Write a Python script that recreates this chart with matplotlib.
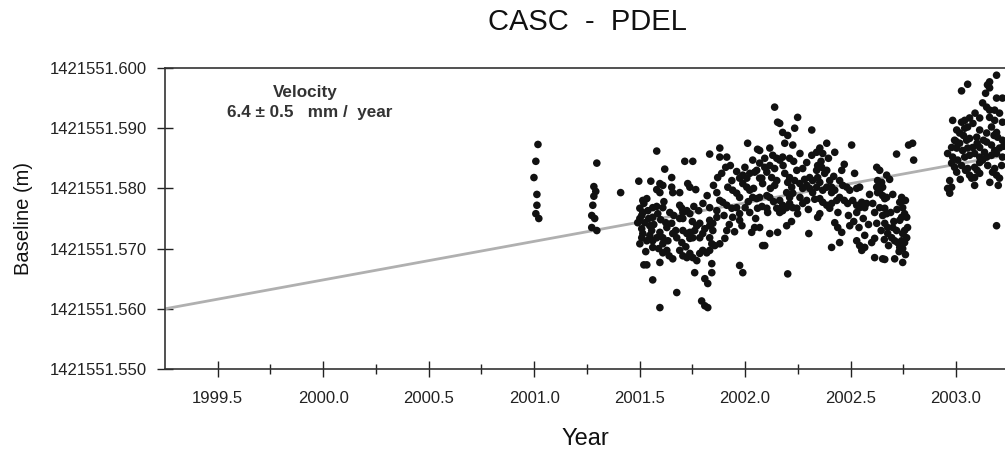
import matplotlib
matplotlib.use("Agg")
import matplotlib.pyplot as plt
from matplotlib.ticker import FixedLocator, FormatStrFormatter

plt.rcParams['font.family'] = ['Liberation Sans', 'DejaVu Sans']

# ---------------- data ----------------
TITLE = "CASC  -  PDEL"
BASE_M = 1421551.550          # baseline reference (m); offsets below are mm above this

# epoch-2001.0 campaign
yr_a = [2001.018, 2001.008, 2000.999, 2001.013, 2001.013, 2001.008, 2001.022]
mm_a = [37.3, 34.5, 31.8, 29.0, 27.2, 25.8, 25.0]

# epoch-2001.3 campaign
yr_b = [2001.297, 2001.283, 2001.292, 2001.283, 2001.278, 2001.273, 2001.287, 2001.273, 2001.297, 2001.410]
mm_b = [34.2, 30.3, 29.5, 28.7, 27.2, 25.5, 25.0, 23.5, 23.0, 29.3]

# continuous 2001.5 - 2002.1
yr_c = [2001.496, 2001.515, 2001.501, 2001.510, 2001.491, 2001.510, 2001.510, 2001.501, 2001.520, 2001.524, 2001.501,
        2001.581, 2001.619, 2001.652, 2001.714, 2001.752, 2001.832, 2001.880, 2001.880, 2001.913, 2001.908, 2001.889,
        2002.012, 2002.059, 2002.036, 2001.553, 2001.596, 2001.610, 2001.581, 2001.596, 2001.652, 2001.657, 2001.690,
        2001.728, 2001.738, 2001.766, 2001.534, 2001.562, 2001.581, 2001.610, 2001.515, 2001.539, 2001.548, 2001.562,
        2001.624, 2001.652, 2001.629, 2001.690, 2001.700, 2001.705, 2001.724, 2001.738, 2001.690, 2001.705, 2001.832,
        2001.866, 2001.880, 2001.894, 2001.918, 2001.941, 2001.960, 2001.974, 2001.937, 2001.974, 2001.989, 2002.008,
        2002.022, 2002.045, 2001.989, 2002.008, 2002.022, 2002.036, 2002.055, 2002.069, 2002.083, 2001.913, 2001.937,
        2001.960, 2001.974, 2001.941, 2001.974, 2001.866, 2001.866, 2001.832, 2002.022, 2002.059, 2002.045, 2002.031,
        2001.515, 2001.534, 2001.548, 2001.562, 2001.581, 2001.596, 2001.610, 2001.610, 2001.634, 2001.657, 2001.676,
        2001.562, 2001.705, 2001.724, 2001.738, 2001.752, 2001.738, 2001.761, 2001.785, 2001.799, 2001.809, 2001.832,
        2001.847, 2001.847, 2001.785, 2001.771, 2001.832, 2001.842, 2001.856, 2001.880, 2001.904, 2001.913, 2001.610,
        2001.629, 2001.690, 2001.705, 2001.724, 2001.738, 2001.752, 2001.771, 2001.785, 2001.799, 2001.818, 2001.832,
        2001.534, 2001.596, 2001.657, 2001.761, 2001.842, 2001.842, 2001.809, 2001.823, 2001.974, 2001.989, 2001.562,
        2001.676, 2001.596, 2001.794, 2001.809, 2001.823, 2002.083, 2002.055, 2002.079,
        2001.520, 2001.543, 2001.557, 2001.529, 2001.567, 2001.586, 2001.600, 2001.615, 2001.643, 2001.662, 2001.671,
        2001.590, 2001.640, 2001.700, 2001.719, 2001.750, 2001.757, 2001.780, 2001.800, 2001.820, 2001.850, 2001.870,
        2001.900, 2001.925, 2001.950, 2001.985, 2002.000, 2002.015, 2002.050, 2002.040, 2001.999, 2001.960, 2001.930]
mm_c = [31.2, 28.0, 26.7, 25.5, 24.3, 23.3, 21.8, 20.8, 17.3, 24.3, 25.0,
        36.2, 33.2, 31.8, 34.5, 34.5, 35.7, 36.7, 35.2, 35.2, 33.5, 32.5,
        37.5, 36.5, 34.7, 31.2, 30.8, 30.5, 29.8, 29.3, 30.2, 29.3, 29.3,
        30.8, 30.2, 29.8, 28.3, 26.8, 27.0, 26.8, 26.0, 26.3, 23.8, 25.2,
        24.3, 24.2, 23.5, 27.2, 26.7, 26.0, 26.3, 25.8, 25.0, 25.0, 26.8,
        29.3, 28.0, 27.7, 30.2, 29.7, 29.2, 28.5, 31.3, 31.7, 32.2, 31.7,
        32.5, 32.7, 30.8, 30.2, 29.7, 28.5, 28.3, 28.5, 30.8, 27.2, 26.7,
        26.8, 25.8, 25.2, 24.7, 26.3, 25.2, 24.7, 26.0, 26.7, 23.5, 22.7,
        22.5, 21.3, 22.2, 21.3, 21.8, 22.7, 21.8, 20.8, 21.3, 22.5, 21.8,
        20.2, 23.0, 22.5, 22.7, 21.8, 21.7, 23.0, 21.8, 22.5, 23.3, 23.8,
        23.0, 24.2, 24.2, 23.8, 21.8, 20.8, 20.5, 20.8, 21.7, 23.0, 19.3,
        19.7, 19.7, 18.8, 18.5, 19.2, 18.5, 18.0, 19.2, 19.7, 19.3, 19.7,
        17.3, 17.7, 18.3, 16.0, 17.5, 16.0, 15.0, 14.2, 17.2, 16.0, 14.8,
        12.7, 10.2, 11.3, 10.5, 10.2, 20.5, 33.0, 31.7,
        27.5, 25.0, 23.0, 19.5, 24.0, 25.8, 24.8, 27.8, 26.0, 25.5, 23.0,
        20.0, 18.8, 21.0, 20.3, 24.5, 27.0, 26.3, 27.5, 28.8, 30.5, 31.8,
        25.5, 24.0, 22.8, 23.8, 26.8, 27.8, 25.0, 30.0, 33.5, 32.8, 33.8]

# continuous 2002.05 - 2002.8
yr_d = [2002.140, 2002.154, 2002.164, 2002.249, 2002.178, 2002.202, 2002.235, 2002.316, 2002.188, 2002.226,
        2002.069, 2002.117, 2002.093, 2002.131, 2002.150, 2002.164, 2002.178, 2002.211, 2002.069, 2002.093,
        2002.117, 2002.140, 2002.103, 2002.069, 2002.126, 2002.150, 2002.140, 2002.188, 2002.211, 2002.202,
        2002.235, 2002.245, 2002.273, 2002.292, 2002.316, 2002.339, 2002.354, 2002.387, 2002.368, 2002.425,
        2002.505, 2002.306, 2002.320, 2002.344, 2002.354, 2002.377, 2002.387, 2002.401, 2002.410, 2002.292,
        2002.306, 2002.320, 2002.339, 2002.368, 2002.387, 2002.410, 2002.425, 2002.339, 2002.344, 2002.363,
        2002.259, 2002.273, 2002.221, 2002.197, 2002.226, 2002.211, 2002.103, 2002.117, 2002.164, 2002.178,
        2002.197, 2002.211, 2002.226, 2002.245, 2002.273, 2002.292, 2002.103, 2002.107, 2002.150, 2002.164,
        2002.178, 2002.249, 2002.354, 2002.368, 2002.387, 2002.401, 2002.410, 2002.434, 2002.448, 2002.448,
        2002.463, 2002.482, 2002.496, 2002.529, 2002.543, 2002.458, 2002.519, 2002.486, 2002.510, 2002.529,
        2002.543, 2002.529, 2002.553, 2002.576, 2002.567, 2002.354, 2002.344, 2002.425, 2002.439, 2002.458,
        2002.496, 2002.624, 2002.628, 2002.624, 2002.628, 2002.605, 2002.614, 2002.624, 2002.069, 2002.117,
        2002.154, 2002.197, 2002.093, 2002.302, 2002.448, 2002.410, 2002.529, 2002.543, 2002.553, 2002.567,
        2002.567, 2002.614, 2002.614, 2002.652, 2002.202,
        2002.794, 2002.775, 2002.718, 2002.799, 2002.638, 2002.671, 2002.647, 2002.652, 2002.638, 2002.652,
        2002.662, 2002.671, 2002.742, 2002.747, 2002.733, 2002.638, 2002.662, 2002.671, 2002.652, 2002.747,
        2002.756, 2002.742, 2002.733, 2002.766, 2002.662, 2002.676, 2002.676, 2002.695, 2002.709, 2002.723,
        2002.742, 2002.756, 2002.766, 2002.747, 2002.756, 2002.718, 2002.700, 2002.733, 2002.747, 2002.662,
        2002.709, 2002.747,
        2002.080, 2002.120, 2002.135, 2002.180, 2002.230, 2002.260, 2002.282, 2002.300, 2002.330, 2002.360,
        2002.395, 2002.420, 2002.440, 2002.470, 2002.490, 2002.515, 2002.540, 2002.560, 2002.585, 2002.600,
        2002.590, 2002.470, 2002.260, 2002.220,
        2002.690, 2002.705, 2002.720, 2002.700, 2002.685, 2002.760, 2002.770, 2002.680, 2002.730, 2002.760,
        2002.660, 2002.645]
mm_d = [43.5, 41.0, 40.8, 41.8, 39.3, 38.8, 40.0, 39.7, 37.5, 37.2,
        36.3, 36.7, 35.0, 35.5, 35.0, 34.7, 35.2, 35.0, 34.2, 33.5,
        33.8, 33.3, 32.7, 31.7, 31.8, 31.3, 30.5, 32.5, 31.8, 31.0,
        31.3, 33.0, 33.3, 34.3, 35.5, 36.0, 36.7, 37.5, 35.8, 36.0,
        37.2, 31.8, 31.3, 31.8, 31.0, 32.5, 33.0, 31.3, 30.2, 30.5,
        30.0, 29.3, 30.2, 29.7, 30.2, 29.3, 29.7, 33.0, 33.8, 33.5,
        30.8, 30.0, 30.2, 29.3, 29.2, 28.5, 28.8, 28.5, 28.0, 27.2,
        26.8, 27.5, 26.8, 26.7, 27.5, 28.0, 26.7, 26.0, 26.7, 26.0,
        26.3, 25.8, 28.3, 27.7, 27.2, 26.7, 27.5, 28.0, 28.5, 31.3,
        30.5, 30.2, 29.7, 30.0, 30.2, 33.0, 32.5, 27.5, 28.0, 27.2,
        26.8, 26.0, 27.7, 27.5, 26.8, 25.8, 25.2, 24.3, 23.5, 22.7,
        23.8, 33.5, 31.3, 30.2, 29.3, 27.5, 26.0, 24.2, 23.5, 22.5,
        22.7, 23.8, 20.5, 22.5, 21.0, 20.2, 21.3, 20.5, 19.7, 20.2,
        22.2, 21.7, 18.5, 18.3, 15.8,
        37.5, 37.2, 35.7, 34.7, 33.0, 32.2, 31.0, 30.2, 29.7, 28.8,
        28.3, 28.5, 28.5, 28.0, 27.7, 26.8, 26.7, 25.8, 25.5, 26.8,
        25.8, 25.2, 24.7, 25.2, 24.2, 23.5, 22.5, 21.8, 21.3, 21.0,
        21.3, 21.0, 21.8, 22.5, 23.0, 23.0, 23.5, 20.2, 20.0, 18.2,
        18.3, 17.7,
        27.0, 30.0, 27.8, 33.8, 34.5, 35.8, 31.5, 26.5, 28.2, 34.5,
        35.0, 32.0, 26.0, 28.0, 25.5, 24.5, 23.5, 25.0, 24.0, 21.0,
        29.0, 34.0, 28.5, 24.5,
        26.0, 24.5, 26.5, 29.0, 31.5, 28.0, 23.5, 20.5, 19.5, 19.0,
        21.5, 23.0]

# continuous 2002.95 onward
yr_e = [2003.192, 2003.159, 2003.149, 2003.159, 2003.055, 2003.026, 2003.192, 2003.220, 2003.126, 2003.145,
        2003.159, 2003.183, 2003.112, 2003.159, 2003.183, 2003.206, 2003.220, 2002.984, 2003.026, 2003.041,
        2003.064, 2003.003, 2003.017, 2003.041, 2003.055, 2003.112, 2003.145, 2003.168, 2003.192, 2003.197,
        2003.220, 2002.993, 2003.017, 2003.050, 2003.064, 2003.098, 2002.979, 2003.003, 2003.031, 2003.055,
        2003.079, 2003.112, 2003.145, 2003.168, 2003.183, 2003.206, 2002.960, 2002.984, 2003.008, 2003.041,
        2003.064, 2003.088, 2003.112, 2003.145, 2003.168, 2003.192, 2003.220, 2002.979, 2002.993, 2003.026,
        2003.055, 2003.088, 2003.112, 2003.126, 2003.003, 2003.064, 2003.088, 2003.112, 2003.173, 2003.192,
        2003.206, 2003.183, 2003.216, 2003.074, 2003.088, 2002.970, 2002.979, 2002.960, 2002.970, 2003.192,
        2003.000, 2003.035, 2003.080, 2003.100, 2003.130, 2003.135, 2003.150, 2003.100, 2003.045, 2003.020,
        2003.160, 2003.200, 2003.225, 2003.180, 2003.090, 2003.140]
mm_e = [48.8, 47.7, 47.2, 46.7, 47.3, 46.2, 45.0, 45.0, 44.2, 43.5,
        43.0, 43.0, 41.7, 41.8, 41.3, 42.5, 41.0, 41.3, 41.0, 41.3,
        41.7, 39.7, 39.2, 40.0, 40.2, 39.7, 39.2, 40.2, 39.3, 38.5,
        38.0, 38.0, 37.5, 38.0, 38.3, 38.5, 36.8, 36.7, 36.3, 36.7,
        36.8, 36.8, 37.7, 37.2, 36.3, 36.7, 35.8, 35.2, 34.7, 35.2,
        35.5, 35.8, 35.2, 35.2, 35.5, 35.8, 35.2, 34.2, 33.5, 33.8,
        33.3, 33.5, 34.3, 34.7, 32.7, 32.2, 31.8, 32.5, 32.7, 32.2,
        31.7, 33.3, 33.8, 31.7, 30.5, 31.3, 30.2, 30.0, 29.2, 23.8,
        37.8, 38.8, 40.8, 37.5, 38.0, 36.0, 33.8, 33.0, 33.0, 31.5,
        31.0, 30.5, 37.0, 38.8, 42.5, 45.8]

# fitted trend
TREND_START_YEAR = 1999.25
TREND_START_M = 1421551.560
VELOCITY_MM_YR = 6.4
VEL_TEXT_1 = "Velocity"
VEL_TEXT_2 = "6.4 \u00b1 0.5   mm /  year"

X_LIM = (1999.25, 2003.232)
Y_LIM = (1421551.550, 1421551.600)
X_MAJOR = [1999.5, 2000.0, 2000.5, 2001.0, 2001.5, 2002.0, 2002.5, 2003.0]
X_MINOR = [1999.75, 2000.25, 2000.75, 2001.25, 2001.75, 2002.25, 2002.75]
Y_MAJOR = [1421551.550, 1421551.560, 1421551.570, 1421551.580, 1421551.590, 1421551.600]

# ---------------- figure ----------------
W, H = 1005, 453
fig = plt.figure(figsize=(W / 100, H / 100), dpi=100)
ax = fig.add_axes([165 / W, (H - 369) / H, (W - 165) / W, (369 - 68) / H])

years = yr_a + yr_b + yr_c + yr_d + yr_e
mms = mm_a + mm_b + mm_c + mm_d + mm_e
vals = [BASE_M + m / 1000.0 for m in mms]

ax.plot([X_LIM[0], X_LIM[1]],
        [TREND_START_M + (X_LIM[0] - TREND_START_YEAR) * VELOCITY_MM_YR / 1000.0,
         TREND_START_M + (X_LIM[1] - TREND_START_YEAR) * VELOCITY_MM_YR / 1000.0],
        color='#b0b0b0', lw=2.0, zorder=2, solid_capstyle='butt')
ax.scatter(years, vals, s=30, color='#111111', edgecolors='none', zorder=3)

ax.set_xlim(*X_LIM)
ax.set_ylim(*Y_LIM)
ax.xaxis.set_major_locator(FixedLocator(X_MAJOR))
ax.xaxis.set_minor_locator(FixedLocator(X_MINOR))
ax.xaxis.set_major_formatter(FormatStrFormatter('%.1f'))
ax.yaxis.set_major_locator(FixedLocator(Y_MAJOR))
ax.yaxis.set_major_formatter(FormatStrFormatter('%.3f'))

ax.tick_params(axis='both', which='major', direction='inout', length=12, width=1.0,
               labelsize=12, colors='#222222', labelcolor='#222222')
ax.tick_params(axis='x', which='major', pad=10)
ax.tick_params(axis='y', which='major', pad=7)
ax.tick_params(axis='x', which='minor', direction='inout', length=7, width=1.0, color='#222222')

for s in ['left', 'bottom', 'top']:
    ax.spines[s].set_color('#333333')
    ax.spines[s].set_linewidth(1.2)
ax.spines['right'].set_visible(False)

ax.set_xlabel("Year", fontsize=17, labelpad=16, color='#111111')
ax.set_ylabel("Baseline (m)", fontsize=14.5, labelpad=12, color='#111111')
fig.text(587 / W, 1 - 22 / H, TITLE, ha='center', va='center', fontsize=21, color='#111111')

fig.text(305 / W, 1 - 93 / H, VEL_TEXT_1, ha='center', va='center', fontsize=12.3,
         fontweight='bold', color='#333333')
fig.text(310 / W, 1 - 113 / H, VEL_TEXT_2, ha='center', va='center', fontsize=12.3,
         fontweight='bold', color='#333333')

fig.savefig("out.png", dpi=100)
